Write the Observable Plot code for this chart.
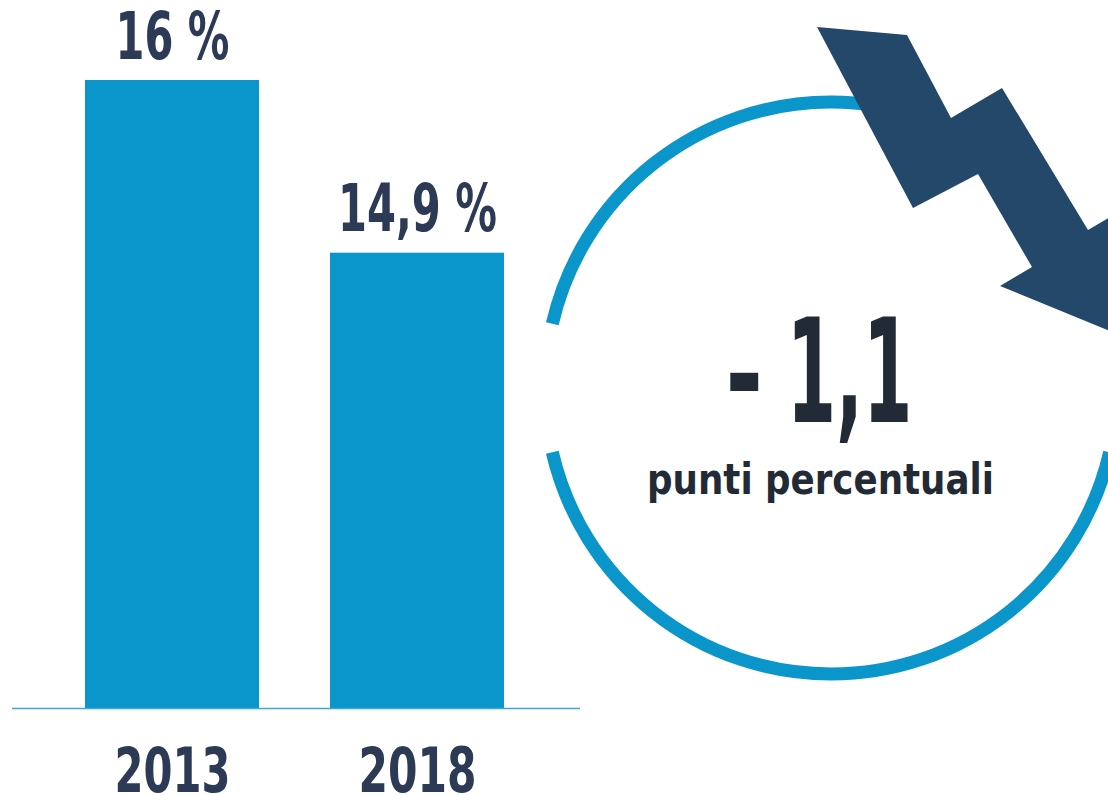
<!DOCTYPE html>
<html>
<head>
<meta charset="utf-8">
<script src="https://cdn.jsdelivr.net/npm/d3@7"></script>
<script src="https://cdn.jsdelivr.net/npm/@observablehq/plot@0.6"></script>
<style>
  html, body { margin: 0; padding: 0; background: #ffffff; }
  svg { display: block; }
</style>
</head>
<body>
<div id="chart"></div>
<script>
// ---- data ----
const years = ["2013", "2018"];
const values = [16, 14.9];
const unitLabel = "punti percentuali";
const yBase = 12;

// ---- derived ----
const fmt = v => String(v).replace(".", ",");
const data = years.map((year, i) => ({year, value: values[i], label: fmt(values[i]) + " %"}));
const change = +(values[1] - values[0]).toFixed(1);
const changeLabel = (change < 0 ? "\u2013 " : "+ ") + fmt(Math.abs(change));

// ---- styles ----
const FONT = "'Liberation Sans Narrow', 'DejaVu Sans Condensed', Roboto, sans-serif";
const BLUE = "#0a96cb";
const NAVY = "#2c3a55";
const DARK = "#222a35";
const ARROW = "#234869";

// decorative ring + downward arrow (pixel geometry)
const ring = {cx: 831, cy: 388, r: 286, gapDeg: 13, width: 13};
const arrowShape = [[817,27],[907,35],[951,118],[1002,88],[1088,230],[1120,211],[1110,331],[1000,286],[1032,267],[978,174],[913,208]];

function decoration() {
  const g = d3.create("svg:g");
  const {cx, cy, r, gapDeg, width} = ring;
  const pt = a => [cx + r * Math.cos(a * Math.PI / 180), cy + r * Math.sin(a * Math.PI / 180)];
  const arcs = [[gapDeg, 180 - gapDeg], [180 + gapDeg, 360 - gapDeg]];
  for (const [a0, a1] of arcs) {
    const [x0, y0] = pt(a0), [x1, y1] = pt(a1);
    g.append("path")
      .attr("d", `M${x0},${y0}A${r},${r} 0 0 1 ${x1},${y1}`)
      .attr("fill", "none")
      .attr("stroke", BLUE)
      .attr("stroke-width", width);
  }
  g.append("path")
    .attr("d", "M" + arrowShape.map(p => p.join(",")).join("L") + "Z")
    .attr("fill", ARROW);
  return g.node();
}

const chart = Plot.plot({
  width: 1108,
  height: 795,
  marginLeft: 12,
  marginRight: 531,
  marginTop: 0,
  marginBottom: 87,
  style: {fontFamily: FONT, background: "#ffffff"},
  x: {type: "band", domain: years, paddingInner: 0.2886, paddingOuter: 0.2927, axis: null},
  y: {domain: [yBase, 16], range: [708, 80], axis: null},
  marks: [
    Plot.barY(data, {x: "year", y1: () => yBase, y2: "value", fill: BLUE}),
    Plot.ruleY([yBase], {stroke: "#3aa9d6", strokeWidth: 1.5, insetRight: -3}),
    Plot.text(data, {x: "year", y: "value", text: "label", lineAnchor: "bottom", dy: -22,
      fontSize: 66, fontWeight: "bold", fill: NAVY}),
    Plot.text(data, {x: "year", text: "year", frameAnchor: "bottom", lineAnchor: "bottom", dy: 83,
      fontSize: 63, fontWeight: "bold", fill: NAVY}),
    decoration,
    Plot.text([changeLabel], {frameAnchor: "top-left", textAnchor: "start", lineAnchor: "bottom",
      dx: 714, dy: 421, fontSize: 145, fontWeight: "bold", fill: DARK}),
    Plot.text([unitLabel], {frameAnchor: "top-left", textAnchor: "middle", lineAnchor: "bottom",
      dx: 808, dy: 493, fontSize: 43, fontWeight: "bold", fill: DARK})
  ]
});

// fit text widths to the condensed look of the original typeface
const textWidths = {};
textWidths[data[0].label] = 114;
textWidths[data[1].label] = 159;
textWidths[years[0]] = 116;
textWidths[years[1]] = 118;
textWidths[changeLabel] = 186;
textWidths[unitLabel] = 347;
d3.select(chart).selectAll("text").each(function () {
  const w = textWidths[this.textContent];
  if (w) {
    this.setAttribute("textLength", w);
    this.setAttribute("lengthAdjust", "spacingAndGlyphs");
  }
});

document.getElementById("chart").appendChild(chart);
</script>
</body>
</html>
